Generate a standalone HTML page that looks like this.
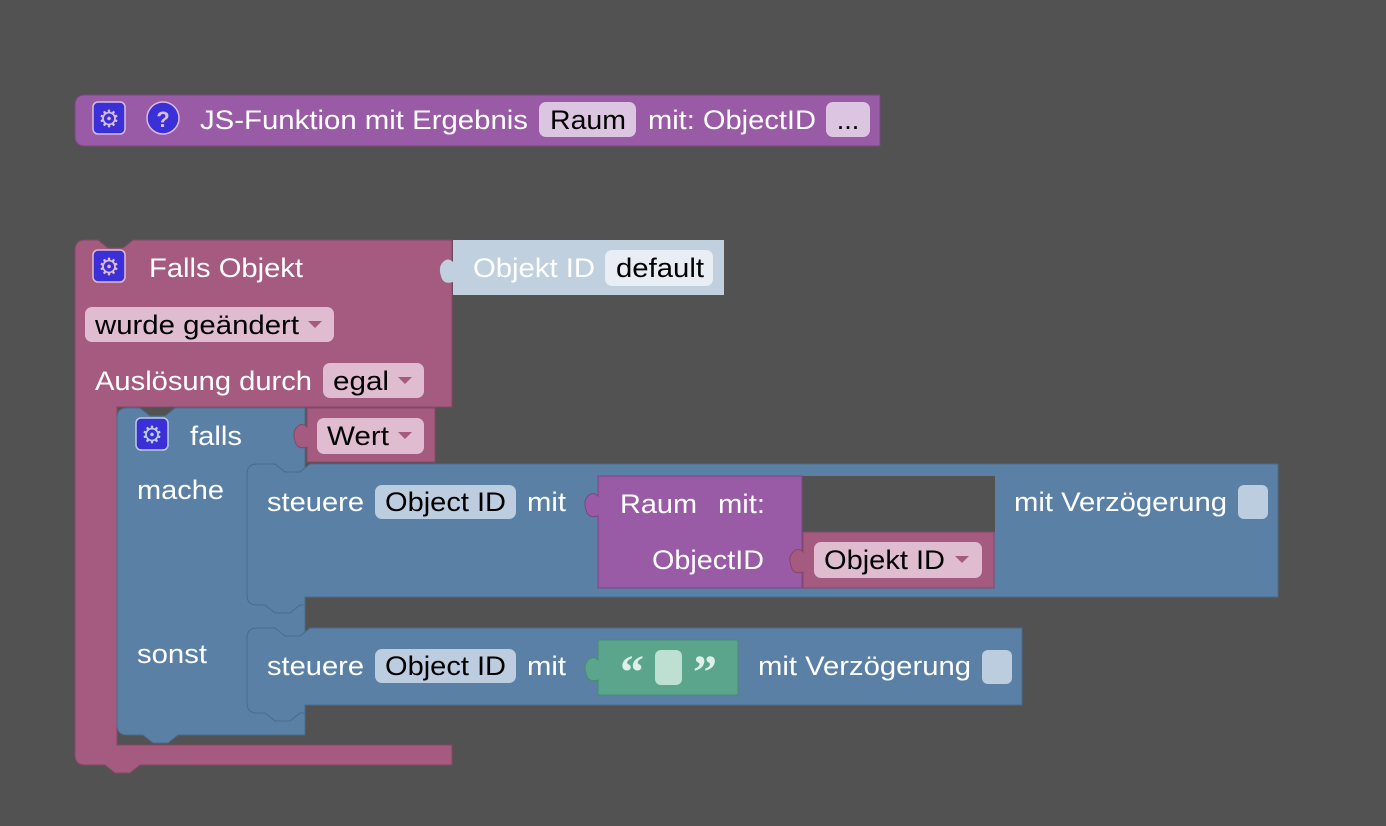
<!DOCTYPE html>
<html><head><meta charset="utf-8"><style>
html,body{margin:0;padding:0;background:#525252;}
svg{display:block}
text{font-family:"Liberation Sans",sans-serif;font-size:27px;}
.w{fill:#fff}.b{fill:#000}
</style></head><body>
<svg width="1386" height="826" viewBox="0 0 1386 826" xmlns="http://www.w3.org/2000/svg">
<rect width="1386" height="826" fill="#525252"/>
<!-- top purple block -->
<path d="M85,95 H880 V146 H85 q-10,0 -10,-10 V105 q0,-10 10,-10Z" fill="#995ba5" stroke="#7a4784" stroke-width="1"/>
<rect x="93" y="102" width="32" height="32" rx="5" fill="#3b30d8" stroke="#d8bde0" stroke-width="1.5"/>
<text x="109" y="127" text-anchor="middle" style="font-size:24px" fill="#d8bde0">⚙</text>
<circle cx="163" cy="118" r="16" fill="#3b30d8" stroke="#d8bde0" stroke-width="1.5"/>
<text x="163" y="127" text-anchor="middle" style="font-size:22px;font-weight:bold" fill="#d8bde0">?</text>
<text x="200" y="129" class="w" textLength="328" lengthAdjust="spacingAndGlyphs">JS-Funktion mit Ergebnis</text>
<rect x="539" y="102" width="97" height="35" rx="7" fill="#dcc5e0"/>
<text x="550" y="129" class="b" textLength="76" lengthAdjust="spacingAndGlyphs">Raum</text>
<text x="648" y="129" class="w" textLength="168" lengthAdjust="spacingAndGlyphs">mit: ObjectID</text>
<rect x="826" y="102" width="44" height="35" rx="7" fill="#dcc5e0"/>
<text x="848" y="129" class="b" text-anchor="middle">...</text>

<!-- pink event block -->
<path d="M85,240 H98 l10,8 h15 l10,-8 H452 V407 H117 V745 H452 V765 H140 l-10,8 h-15 l-10,-8 H85 q-10,0 -10,-10 V250 q0,-10 10,-10Z" fill="#a55b80" stroke="#844866" stroke-width="1"/>
<rect x="93" y="250" width="32" height="32" rx="5" fill="#3b30d8" stroke="#e0bcd0" stroke-width="1.5"/>
<text x="109" y="275" text-anchor="middle" style="font-size:24px" fill="#e0bcd0">⚙</text>
<text x="149" y="277" class="w" textLength="154" lengthAdjust="spacingAndGlyphs">Falls Objekt</text>
<!-- Objekt ID block -->
<path d="M453,240 H724 V295 H453 V282 q-10,3 -12,-6 q-3,-9 2,-14 q5,-5 10,0Z" fill="#c0d0df"/>
<text x="473" y="277" class="w" textLength="122" lengthAdjust="spacingAndGlyphs">Objekt ID</text>
<rect x="605" y="250" width="108" height="36" rx="7" fill="#e8eef4"/>
<text x="616" y="277" class="b" textLength="88" lengthAdjust="spacingAndGlyphs">default</text>
<rect x="85" y="307" width="249" height="35" rx="7" fill="#e0bcd0"/>
<text x="95" y="334" class="b" textLength="204" lengthAdjust="spacingAndGlyphs">wurde geändert</text>
<path d="M308,321 h14 l-7,7Z" fill="#a55b80"/>
<text x="95" y="390" class="w" textLength="217" lengthAdjust="spacingAndGlyphs">Auslösung durch</text>
<rect x="323" y="363" width="101" height="35" rx="7" fill="#e0bcd0"/>
<text x="333" y="390" class="b" textLength="56" lengthAdjust="spacingAndGlyphs">egal</text>
<path d="M398,377 h14 l-7,7Z" fill="#a55b80"/>

<!-- blue if block -->
<path d="M127,408 H140 l10,8 h15 l10,-8 H305 V735 H178 l-10,8 h-15 l-10,-8 H127 q-10,0 -10,-10 V418 q0,-10 10,-10Z" fill="#5b80a5" stroke="#4a6a8a" stroke-width="1"/>
<rect x="136" y="418" width="32" height="32" rx="5" fill="#3b30d8" stroke="#bccde0" stroke-width="1.5"/>
<text x="152" y="443" text-anchor="middle" style="font-size:24px" fill="#bccde0">⚙</text>
<text x="190" y="445" class="w" textLength="52" lengthAdjust="spacingAndGlyphs">falls</text>
<!-- Wert block -->
<path d="M307,408 H435 V462 H307 V447 q-10,3 -12,-6 q-3,-9 2,-14 q5,-5 10,0Z" fill="#a55b80" stroke="#844866" stroke-width="1"/>
<rect x="317" y="418" width="107" height="36" rx="7" fill="#e0bcd0"/>
<text x="327" y="445" class="b" textLength="62" lengthAdjust="spacingAndGlyphs">Wert</text>
<path d="M398,432 h14 l-7,7Z" fill="#a55b80"/>
<text x="137" y="499" class="w" textLength="87" lengthAdjust="spacingAndGlyphs">mache</text>
<text x="137" y="663" class="w" textLength="70" lengthAdjust="spacingAndGlyphs">sonst</text>

<!-- statement 1 -->
<path d="M257,464 H275 l10,8 h15 l10,-8 H1278 V597 H305 V605 H300 l-10,8 h-15 l-10,-8 H257 q-10,0 -10,-10 V474 q0,-10 10,-10Z" fill="#5b80a5" stroke="#4a6a8a" stroke-width="1"/>
<text x="267" y="511" class="w" textLength="97" lengthAdjust="spacingAndGlyphs">steuere</text>
<rect x="375" y="485" width="141" height="34" rx="7" fill="#bccde0"/>
<text x="385" y="511" class="b" textLength="121" lengthAdjust="spacingAndGlyphs">Object ID</text>
<text x="527" y="511" class="w" textLength="39" lengthAdjust="spacingAndGlyphs">mit</text>
<rect x="802" y="476" width="193" height="56" fill="#525252"/>
<path d="M598,476 H802 V588 H598 V516 q-10,3 -12,-6 q-3,-9 2,-14 q5,-5 10,0Z" fill="#995ba5" stroke="#7a4784" stroke-width="1"/>
<text x="620" y="513" class="w" textLength="77" lengthAdjust="spacingAndGlyphs">Raum</text>
<text x="718" y="513" class="w" textLength="47" lengthAdjust="spacingAndGlyphs">mit:</text>
<text x="652" y="569" class="w" textLength="112" lengthAdjust="spacingAndGlyphs">ObjectID</text>
<path d="M803,532 H994 V588 H803 V572 q-10,3 -12,-6 q-3,-9 2,-14 q5,-5 10,0Z" fill="#a55b80" stroke="#844866" stroke-width="1"/>
<rect x="814" y="542" width="168" height="36" rx="7" fill="#e0bcd0"/>
<text x="824" y="569" class="b" textLength="121" lengthAdjust="spacingAndGlyphs">Objekt ID</text>
<path d="M955,556 h14 l-7,7Z" fill="#a55b80"/>
<text x="1014" y="511" class="w" textLength="213" lengthAdjust="spacingAndGlyphs">mit Verzögerung</text>
<rect x="1238" y="485" width="30" height="34" rx="6" fill="#bccde0"/>

<!-- statement 2 -->
<path d="M257,628 H275 l10,8 h15 l10,-8 H1022 V705 H305 V713 H300 l-10,8 h-15 l-10,-8 H257 q-10,0 -10,-10 V638 q0,-10 10,-10Z" fill="#5b80a5" stroke="#4a6a8a" stroke-width="1"/>
<text x="267" y="675" class="w" textLength="97" lengthAdjust="spacingAndGlyphs">steuere</text>
<rect x="375" y="649" width="141" height="34" rx="7" fill="#bccde0"/>
<text x="385" y="675" class="b" textLength="121" lengthAdjust="spacingAndGlyphs">Object ID</text>
<text x="527" y="675" class="w" textLength="39" lengthAdjust="spacingAndGlyphs">mit</text>
<path d="M598,640 H738 V695 H598 V680 q-10,3 -12,-6 q-3,-9 2,-14 q5,-5 10,0Z" fill="#5ba58c" stroke="#4a8a74" stroke-width="1"/>
<text x="632" y="688" text-anchor="middle" style="font-family:'Liberation Serif',serif;font-size:48px;font-weight:bold" fill="#ddefe8">“</text>
<rect x="655" y="650" width="27" height="35" rx="6" fill="#bde0d3"/>
<text x="705" y="688" text-anchor="middle" style="font-family:'Liberation Serif',serif;font-size:48px;font-weight:bold" fill="#ddefe8">”</text>
<text x="758" y="675" class="w" textLength="213" lengthAdjust="spacingAndGlyphs">mit Verzögerung</text>
<rect x="982" y="650" width="30" height="34" rx="6" fill="#bccde0"/>
</svg>
</body></html>
